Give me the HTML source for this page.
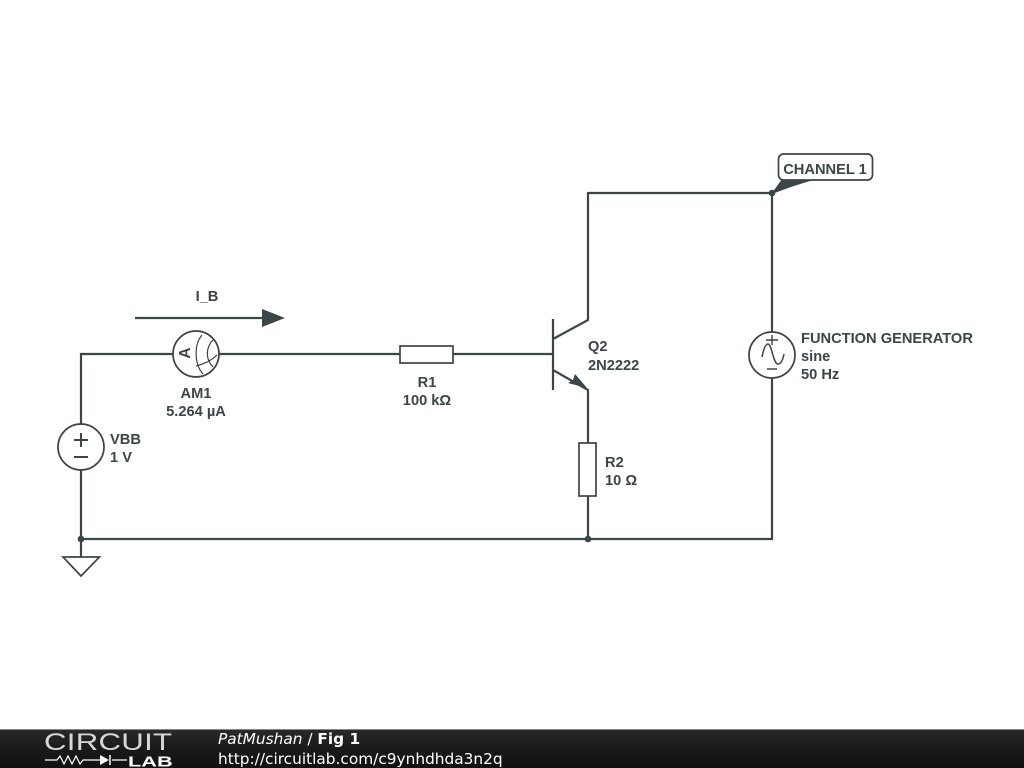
<!DOCTYPE html>
<html>
<head>
<meta charset="utf-8">
<style>
html,body{margin:0;padding:0;background:#fff;width:1024px;height:768px;overflow:hidden}
svg{display:block}
text{font-family:"Liberation Sans",sans-serif;font-weight:bold;font-size:14.65px;fill:#3c4548}
.w{fill:none;stroke:#3c4548;stroke-width:2.2}
.t{fill:none;stroke:#3c4548;stroke-width:1.7}
.f{font-family:"DejaVu Sans",sans-serif;font-weight:normal;fill:#fff;font-size:15.35px}
</style>
</head>
<body>
<svg width="1024" height="768" viewBox="0 0 1024 768" xmlns="http://www.w3.org/2000/svg">
<defs>
<linearGradient id="bar" x1="0" y1="0" x2="0" y2="1">
<stop offset="0" stop-color="#2a2a2a"/><stop offset="0.5" stop-color="#1a1a1a"/><stop offset="1" stop-color="#111"/>
</linearGradient>
</defs>
<rect width="1024" height="768" fill="#fff"/>

<!-- wires -->
<path class="w" d="M81 424V354H173M219 354H400M453 354H553M81 470V557M81 539H772V378M772 332V193H588V320L553 339"/>
<path class="w" d="M553 370L588 390V443M588 496V539"/>
<path class="w" d="M553 319V390"/>

<!-- junctions -->
<circle cx="81" cy="539" r="3.300" fill="#3c4548"/>
<circle cx="588" cy="539" r="3.300" fill="#3c4548"/>
<circle cx="772" cy="193" r="3.300" fill="#3c4548"/>

<!-- ground -->
<path class="t" d="M63 557H99.500L81 576Z" fill="#fff"/>

<!-- VBB -->
<circle class="t" cx="81" cy="447" r="23" fill="#fff"/>
<path d="M81 433V447M74 440H88M74 457H88" fill="none" stroke="#3c4548" stroke-width="2"/>
<text x="110" y="444">VBB</text>
<text x="110" y="462">1 V</text>

<!-- ammeter -->
<circle class="t" cx="196" cy="354" r="23"/>
<path d="M202 335C194 344 194 364 203 374M213 340C206 347 205 359 213 367M196 366C204 364 212 360 217 355" fill="none" stroke="#3c4548" stroke-width="1.200"/>
<text transform="translate(190,353) rotate(-90)" text-anchor="middle" style="font-size:15.500px">A</text>
<text x="196" y="398" text-anchor="middle">AM1</text>
<text x="196" y="416" text-anchor="middle">5.264 µA</text>

<!-- I_B arrow -->
<text x="207" y="301" text-anchor="middle">I_B</text>
<path class="w" d="M135 318H265"/>
<path d="M262 309L285 318L262 327Z" fill="#3c4548"/>

<!-- R1 -->
<rect class="t" x="400" y="346" width="53" height="17" fill="#fff"/>
<text x="427" y="387" text-anchor="middle">R1</text>
<text x="427" y="405" text-anchor="middle">100 kΩ</text>

<!-- Q2 -->
<path d="M587 388L568 383L573 380L575 374Z" fill="#3c4548"/>
<text x="588" y="351">Q2</text>
<text x="588" y="370">2N2222</text>

<!-- R2 -->
<rect class="t" x="579" y="443" width="17" height="53" fill="#fff"/>
<text x="605" y="467">R2</text>
<text x="605" y="485">10 Ω</text>

<!-- Function generator -->
<circle class="t" cx="772" cy="355" r="23" fill="#fff"/>
<path d="M766 340H778M772 335V345M767 369H777" fill="none" stroke="#3c4548" stroke-width="1.400"/>
<path d="M762 357C764 347 766 344 768 344C772 344 773 364 778 364C781 364 783 359 784 354" fill="none" stroke="#3c4548" stroke-width="1.500"/>
<text x="801" y="343">FUNCTION GENERATOR</text>
<text x="801" y="361">sine</text>
<text x="801" y="379">50 Hz</text>

<!-- Channel label -->
<path d="M772 193L782 179H817Q795 185 772 194Z" fill="#3c4548"/>
<rect x="778.500" y="154" width="94" height="26" rx="5" fill="#fff" stroke="#3c4548" stroke-width="1.700"/>
<text x="825" y="174" text-anchor="middle">CHANNEL 1</text>

<!-- footer -->
<rect x="0" y="729" width="1024" height="39" fill="url(#bar)"/>
<rect x="0" y="729" width="1024" height="1" fill="#888"/>
<text transform="translate(44,750) scale(1.300,1)" style="font-size:24px;font-weight:normal;fill:#d8d8d8;letter-spacing:0.2px">CIRCUIT</text>
<path d="M45 760H57L60 756L64 764L68 756L72 764L76 756L80 764L83 760H100M112 760H127" fill="none" stroke="#fff" stroke-width="1.200"/>
<path d="M100 755L109 760L100 765Z" fill="#fff"/>
<path d="M110 755V765" stroke="#fff" stroke-width="1.500"/>
<text transform="translate(128,766.500) scale(1.450,1)" style="font-size:15px;font-weight:bold;fill:#fff">LAB</text>
<text x="218" y="744" class="f"><tspan font-style="italic">PatMushan</tspan> / <tspan font-weight="bold">Fig 1</tspan></text>
<text x="218" y="764" class="f">http://circuitlab.com/c9ynhdhda3n2q</text>
</svg>
</body>
</html>
